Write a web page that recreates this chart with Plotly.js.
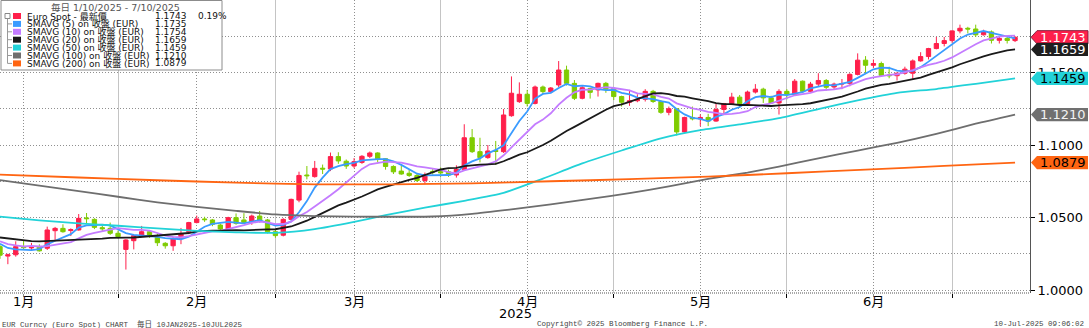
<!DOCTYPE html>
<html><head><meta charset="utf-8">
<script src="https://cdn.plot.ly/plotly-3.0.1.min.js"></script>
<style>html,body{margin:0;padding:0;background:#fff;}#chart{width:1089px;height:328px;}</style>
</head><body><div id="chart"></div>
<script>
// ---------- DATA ----------
// trading days 10 Jan 2025 .. 10 Jul 2025 (FX trades every weekday)
const dates = [];
for (let t = Date.UTC(2025,0,10); t <= Date.UTC(2025,6,10); t += 864e5) {
  const d = new Date(t), w = d.getUTCDay();
  if (w !== 0 && w !== 6) dates.push(d.toISOString().slice(0,10));
}
const openP = [
1.0299,1.0234,1.0243,1.0300,1.0290,1.0298,1.0288,1.0409,1.0425,1.0410,
1.0414,1.0497,1.0487,1.0430,1.0425,1.0391,1.0280,1.0340,1.0379,1.0402,
1.0365,1.0322,1.0305,1.0356,1.0402,1.0465,1.0490,1.0483,1.0448,1.0421,
1.0499,1.0483,1.0471,1.0510,1.0483,1.0402,1.0378,1.0487,1.0620,1.0793,
1.0782,1.0840,1.0835,1.0920,1.0888,1.0855,1.0880,1.0922,1.0945,1.0905,
1.0852,1.0820,1.0805,1.0790,1.0755,1.0818,1.0816,1.0815,1.0793,1.0832,
1.1050,1.0954,1.0913,1.0962,1.0954,1.1202,1.1299,1.1350,1.1287,1.1400,
1.1368,1.1414,1.1517,1.1425,1.1322,1.1390,1.1380,1.1425,1.1390,1.1334,
1.1295,1.1305,1.1315,1.1370,1.1300,1.1225,1.1250,1.1090,1.1190,1.1180,
1.1190,1.1165,1.1245,1.1285,1.1330,1.1285,1.1365,1.1385,1.1325,1.1290,
1.1370,1.1350,1.1440,1.1370,1.1420,1.1445,1.1400,1.1420,1.1425,1.1487,
1.1585,1.1550,1.1562,1.1483,1.1478,1.1495,1.1495,1.1580,1.1610,1.1665,
1.1700,1.1720,1.1787,1.1805,1.1800,1.1760,1.1780,1.1722,1.1735,1.1720];
const highP = [
1.0310,1.0250,1.0336,1.0345,1.0325,1.0315,1.0437,1.0435,1.0453,1.0425,
1.0524,1.0531,1.0495,1.0445,1.0465,1.0410,1.0350,1.0380,1.0442,1.0410,
1.0390,1.0330,1.0365,1.0428,1.0470,1.0513,1.0505,1.0490,1.0458,1.0505,
1.0528,1.0530,1.0520,1.0545,1.0490,1.0420,1.0495,1.0630,1.0816,1.0855,
1.0890,1.0865,1.0948,1.0950,1.0900,1.0910,1.0930,1.0955,1.0950,1.0910,
1.0860,1.0860,1.0830,1.0800,1.0810,1.0835,1.0845,1.0830,1.0860,1.1143,
1.1110,1.1050,1.1000,1.1028,1.1248,1.1473,1.1432,1.1380,1.1410,1.1410,
1.1400,1.1579,1.1547,1.1448,1.1405,1.1395,1.1430,1.1435,1.1400,1.1340,
1.1380,1.1350,1.1385,1.1380,1.1310,1.1265,1.1255,1.1195,1.1265,1.1210,
1.1215,1.1285,1.1290,1.1360,1.1345,1.1375,1.1420,1.1395,1.1340,1.1385,
1.1385,1.1455,1.1445,1.1435,1.1495,1.1455,1.1430,1.1455,1.1495,1.1632,
1.1613,1.1590,1.1575,1.1540,1.1500,1.1540,1.1590,1.1640,1.1670,1.1745,
1.1745,1.1790,1.1830,1.1815,1.1830,1.1795,1.1790,1.1750,1.1745,1.1750];
const lowP = [
1.0215,1.0178,1.0230,1.0276,1.0270,1.0265,1.0276,1.0345,1.0395,1.0372,
1.0410,1.0462,1.0420,1.0400,1.0380,1.0355,1.0141,1.0280,1.0370,1.0360,
1.0303,1.0285,1.0270,1.0316,1.0385,1.0460,1.0470,1.0440,1.0400,1.0415,
1.0450,1.0455,1.0450,1.0465,1.0390,1.0360,1.0370,1.0480,1.0605,1.0763,
1.0775,1.0800,1.0820,1.0870,1.0835,1.0840,1.0870,1.0910,1.0880,1.0830,
1.0800,1.0795,1.0780,1.0745,1.0733,1.0795,1.0780,1.0780,1.0775,1.0830,
1.0945,1.0880,1.0905,1.0862,1.0945,1.1195,1.1290,1.1265,1.1280,1.1350,
1.1360,1.1400,1.1410,1.1310,1.1315,1.1320,1.1334,1.1360,1.1310,1.1265,
1.1270,1.1295,1.1300,1.1290,1.1215,1.1205,1.1065,1.1085,1.1170,1.1130,
1.1130,1.1160,1.1215,1.1275,1.1255,1.1280,1.1355,1.1290,1.1285,1.1210,
1.1315,1.1345,1.1360,1.1365,1.1405,1.1375,1.1385,1.1385,1.1405,1.1480,
1.1489,1.1530,1.1475,1.1460,1.1445,1.1485,1.1452,1.1575,1.1590,1.1660,
1.1680,1.1705,1.1770,1.1770,1.1745,1.1755,1.1700,1.1700,1.1700,1.1710];
const closeP = [
1.0240,1.0243,1.0299,1.0292,1.0300,1.0270,1.0414,1.0425,1.0402,1.0416,
1.0494,1.0492,1.0432,1.0422,1.0391,1.0368,1.0345,1.0375,1.0402,1.0380,
1.0326,1.0305,1.0355,1.0386,1.0465,1.0490,1.0485,1.0453,1.0421,1.0499,
1.0460,1.0465,1.0510,1.0474,1.0402,1.0375,1.0487,1.0625,1.0790,1.0788,
1.0839,1.0834,1.0920,1.0890,1.0855,1.0885,1.0922,1.0945,1.0905,1.0852,
1.0815,1.0800,1.0790,1.0755,1.0795,1.0814,1.0808,1.0793,1.0832,1.1050,
1.0954,1.0913,1.0959,1.0955,1.1207,1.1357,1.1350,1.1287,1.1400,1.1368,
1.1393,1.1517,1.1425,1.1322,1.1395,1.1363,1.1425,1.1385,1.1334,1.1295,
1.1305,1.1315,1.1370,1.1300,1.1225,1.1250,1.1090,1.1190,1.1180,1.1190,
1.1165,1.1245,1.1285,1.1330,1.1285,1.1365,1.1385,1.1325,1.1290,1.1370,
1.1350,1.1440,1.1370,1.1420,1.1445,1.1398,1.1420,1.1424,1.1487,1.1585,
1.1550,1.1562,1.1480,1.1478,1.1495,1.1523,1.1580,1.1610,1.1665,1.1700,
1.1720,1.1787,1.1805,1.1800,1.1760,1.1780,1.1722,1.1735,1.1721,1.1743];

const sma5 = [
1.0319,1.0290,1.0280,1.0275,1.0275,1.0281,1.0315,1.0340,1.0362,1.0385,
1.0430,1.0446,1.0447,1.0451,1.0446,1.0421,1.0392,1.0380,1.0376,1.0374,
1.0366,1.0358,1.0354,1.0350,1.0367,1.0400,1.0436,1.0456,1.0463,1.0470,
1.0464,1.0460,1.0471,1.0482,1.0462,1.0445,1.0450,1.0473,1.0536,1.0613,
1.0706,1.0775,1.0834,1.0854,1.0868,1.0877,1.0894,1.0899,1.0902,1.0902,
1.0888,1.0863,1.0832,1.0802,1.0791,1.0791,1.0792,1.0793,1.0808,1.0859,
1.0887,1.0908,1.0942,1.0966,1.0998,1.1078,1.1166,1.1231,1.1320,1.1352,
1.1360,1.1393,1.1421,1.1405,1.1410,1.1404,1.1386,1.1378,1.1380,1.1360,
1.1349,1.1327,1.1324,1.1317,1.1303,1.1292,1.1247,1.1211,1.1187,1.1180,
1.1163,1.1194,1.1213,1.1243,1.1262,1.1302,1.1330,1.1338,1.1330,1.1347,
1.1344,1.1355,1.1364,1.1390,1.1405,1.1415,1.1411,1.1421,1.1435,1.1463,
1.1493,1.1522,1.1533,1.1531,1.1513,1.1508,1.1511,1.1537,1.1575,1.1616,
1.1655,1.1696,1.1735,1.1762,1.1774,1.1786,1.1773,1.1759,1.1744,1.1735];
const sma10 = [
1.0336,1.0317,1.0307,1.0300,1.0304,1.0300,1.0302,1.0310,1.0319,1.0330,
1.0356,1.0380,1.0394,1.0407,1.0416,1.0426,1.0419,1.0414,1.0414,1.0410,
1.0393,1.0375,1.0367,1.0363,1.0371,1.0383,1.0397,1.0405,1.0407,1.0419,
1.0432,1.0448,1.0463,1.0472,1.0466,1.0454,1.0455,1.0472,1.0509,1.0538,
1.0576,1.0612,1.0653,1.0695,1.0740,1.0791,1.0835,1.0867,1.0878,1.0885,
1.0882,1.0879,1.0866,1.0852,1.0846,1.0839,1.0828,1.0813,1.0805,1.0825,
1.0839,1.0850,1.0867,1.0887,1.0929,1.0983,1.1037,1.1086,1.1143,1.1175,
1.1219,1.1279,1.1326,1.1363,1.1381,1.1382,1.1390,1.1399,1.1393,1.1385,
1.1377,1.1356,1.1351,1.1349,1.1332,1.1320,1.1287,1.1267,1.1252,1.1242,
1.1228,1.1221,1.1212,1.1215,1.1221,1.1233,1.1262,1.1276,1.1287,1.1305,
1.1323,1.1343,1.1351,1.1360,1.1376,1.1379,1.1383,1.1393,1.1412,1.1434,
1.1454,1.1466,1.1477,1.1483,1.1488,1.1500,1.1516,1.1535,1.1553,1.1564,
1.1581,1.1604,1.1636,1.1669,1.1695,1.1721,1.1735,1.1747,1.1753,1.1754];
const sma20 = [
1.0362,1.0355,1.0348,1.0342,1.0337,1.0336,1.0338,1.0341,1.0343,1.0345,
1.0346,1.0349,1.0350,1.0354,1.0360,1.0363,1.0361,1.0362,1.0366,1.0370,
1.0374,1.0378,1.0380,1.0385,1.0393,1.0404,1.0408,1.0409,1.0410,1.0414,
1.0413,1.0411,1.0415,1.0418,1.0418,1.0419,1.0426,1.0438,1.0458,1.0478,
1.0504,1.0530,1.0558,1.0584,1.0603,1.0623,1.0645,1.0669,1.0694,1.0711,
1.0729,1.0746,1.0760,1.0774,1.0793,1.0815,1.0831,1.0840,1.0842,1.0855,
1.0861,1.0865,1.0867,1.0870,1.0888,1.0911,1.0933,1.0950,1.0974,1.1000,
1.1029,1.1065,1.1097,1.1125,1.1155,1.1182,1.1213,1.1243,1.1268,1.1280,
1.1298,1.1318,1.1338,1.1356,1.1357,1.1351,1.1338,1.1333,1.1322,1.1314,
1.1302,1.1289,1.1282,1.1282,1.1276,1.1277,1.1275,1.1272,1.1269,1.1273,
1.1275,1.1282,1.1282,1.1288,1.1299,1.1306,1.1322,1.1334,1.1350,1.1369,
1.1389,1.1404,1.1414,1.1422,1.1432,1.1440,1.1450,1.1464,1.1483,1.1499,
1.1518,1.1535,1.1557,1.1576,1.1592,1.1611,1.1626,1.1641,1.1653,1.1659];
// longer averages, read at sampled trading days (index into dates)
const sma50Day = [0,5,10,15,20,25,30,35,40,45,49,54,59,64,69,74,79,84,89,94,99,104,109,114,119,124,129];
const sma50 = [1.0506,1.0480,1.0460,1.0443,1.0425,1.0408,1.0398,1.0394,1.0420,1.0470,1.0516,1.0568,1.0615,
               1.0670,1.0768,1.0873,1.0962,1.1046,1.1102,1.1142,1.1186,1.1248,1.1308,1.1360,1.1386,1.1422,1.1459];
const sma100Day = [0,5,10,15,20,25,30,35,40,45,50,55,60,65,70,75,80,85,90,95,99,104,109,114,119,124,129];
const sma100 = [1.0758,1.0720,1.0682,1.0643,1.0605,1.0574,1.0546,1.0521,1.0510,1.0506,1.0505,1.0507,1.0525,
                1.0556,1.0590,1.0628,1.0668,1.0715,1.0766,1.0810,1.0851,1.0908,1.0962,1.1015,1.1077,1.1147,1.1210];
const sma200Day = [0,10,20,30,40,50,60,70,80,90,100,110,120,129];
const sma200 = [1.0795,1.0776,1.0757,1.0740,1.0728,1.0729,1.0736,1.0750,1.0764,1.0782,1.0805,1.0830,1.0856,1.0879];

const monthLabelDates = ['2025-01-15','2025-02-14','2025-03-14','2025-04-15','2025-05-15','2025-06-16'];
const monthLabels = ['1月','2月','3月','4月','5月','6月'];
const monthEndDates = ['2025-01-31','2025-02-28','2025-03-31','2025-04-30','2025-05-30','2025-06-30'];

const legendTitle = '毎日 1/10/2025 - 7/10/2025';
const legendNames = ['Euro Spot - 最新價','SMAVG (5) on 收盤 (EUR)','SMAVG (10) on 收盤 (EUR)','SMAVG (20) on 收盤 (EUR)',
                     'SMAVG (50) on 收盤 (EUR)','SMAVG (100) on 收盤 (EUR)','SMAVG (200) on 收盤 (EUR)'];
const legendValues = ['1.1743','1.1735','1.1754','1.1659','1.1459','1.1210','1.0879'];
const lastChange = '0.19%';
const tagValues = [1.1743, 1.1659, 1.1459, 1.1210, 1.0879];

const footerLeft = 'EUR Curncy (Euro Spot) CHART  毎日 10JAN2025-10JUL2025';
const footerMid = 'Copyright© 2025 Bloomberg Finance L.P.';
const footerRight = '10-Jul-2025 09:06:02';
const yearLabel = '2025';

// ---------- STYLE ----------
const UP = '#ff1f4b', DOWN = '#7fcc00';
const lineColors = ['#3a9bff','#c47cff','#1a1a1a','#22d2d8','#6e6e6e','#ff6512'];
const legendColors = [UP].concat(lineColors);
const tagFill = ['#ff1f4b','#1f1f1f','#22d2d8','#707070','#ff6512'];
const tagText = ['#ffffff','#ffffff','#000000','#f2f2f2','#000000'];
const FONT = 'DejaVu Sans, Noto Sans CJK TC, sans-serif';
const MONO = 'Liberation Mono, Noto Sans CJK TC, monospace';

const W = 1089, H = 328, ML = 0, MR = 59, MT = 0, MB = 35;
const PW = W - ML - MR, PH = H - MT - MB;
const Y0 = 0.99793, Y1 = 1.2;
const px = x => x / PW;
const py = y => 1 - y / PH;
const yv = v => (v - Y0) / (Y1 - Y0);
const di = d => dates.indexOf(d);
const idx = dates.map((d, i) => i);

const traces = [{
  type: 'candlestick', x: idx, open: openP, high: highP, low: lowP, close: closeP,
  increasing: {line: {color: UP, width: 1}, fillcolor: UP},
  decreasing: {line: {color: DOWN, width: 1}, fillcolor: DOWN},
  whiskerwidth: 0, hoverinfo: 'skip', showlegend: false
}];
const lineSets = [
  [idx, sma5, 'linear'], [idx, sma10, 'linear'], [idx, sma20, 'linear'],
  [sma50Day, sma50, 'spline'], [sma100Day, sma100, 'spline'], [sma200Day, sma200, 'spline']
];
lineSets.forEach((s, k) => traces.push({
  type: 'scatter', mode: 'lines', x: s[0], y: s[1],
  line: {color: lineColors[k], width: 1.8, shape: s[2], smoothing: 0.6},
  hoverinfo: 'skip', showlegend: false
}));

const shapes = [], annotations = [];
// bottom axis (dotted)
shapes.push({type:'line', xref:'paper', yref:'paper', x0:0, x1:1, y0:0, y1:0, line:{color:'#555', width:1, dash:'1px,1px'}});
// month labels under the axis
monthLabels.forEach((m, k) => annotations.push({xref:'x', yref:'paper', x:di(monthLabelDates[k]), y:py(301),
  text:m, showarrow:false, xanchor:'center', yanchor:'middle', font:{family:FONT, size:13, color:'#000'}}));
annotations.push({xref:'paper', yref:'paper', x:px(515), y:py(313.5), text:yearLabel, showarrow:false,
  xanchor:'center', yanchor:'middle', font:{family:FONT, size:13, color:'#000'}});

// legend box
shapes.push({type:'rect', xref:'paper', yref:'paper', x0:px(1), x1:px(222), y0:py(70), y1:py(0.5),
  fillcolor:'#ffffff', line:{color:'#8c8c8c', width:1}});
annotations.push({xref:'paper', yref:'paper', x:px(115), y:py(7.5), text:legendTitle, showarrow:false,
  xanchor:'center', yanchor:'middle', font:{family:FONT, size:9.5, color:'#555'}});
const rowY = [16, 23.9, 31.8, 39.7, 47.6, 55.5, 63.4];
shapes.push({type:'rect', xref:'paper', yref:'paper', x0:px(5), x1:px(10), y0:py(rowY[0]+2.5), y1:py(rowY[0]-2.5),
  fillcolor:'#ffffff', line:{color:'#888', width:1}});
shapes.push({type:'line', xref:'paper', yref:'paper', x0:px(7.5), x1:px(7.5), y0:py(rowY[0]+2.5), y1:py(rowY[6]),
  line:{color:'#999', width:1}});
legendNames.forEach((n, k) => {
  const y = rowY[k];
  if (k > 0) shapes.push({type:'line', xref:'paper', yref:'paper', x0:px(7.5), x1:px(12), y0:py(y), y1:py(y),
    line:{color:'#999', width:1}});
  shapes.push({type:'rect', xref:'paper', yref:'paper', x0:px(13), x1:px(21), y0:py(y+3), y1:py(y-3),
    fillcolor:legendColors[k], line:{width:0}});
  annotations.push({xref:'paper', yref:'paper', x:px(25), y:py(y), text:n, showarrow:false,
    xanchor:'left', yanchor:'middle', font:{family:FONT, size:9, color:'#111'}});
  annotations.push({xref:'paper', yref:'paper', x:px(188.5), y:py(y), text:legendValues[k], showarrow:false,
    xanchor:'right', yanchor:'middle', font:{family:FONT, size:9, color:'#111'}});
});
annotations.push({xref:'paper', yref:'paper', x:px(196), y:py(rowY[0]), text:lastChange, showarrow:false,
  xanchor:'left', yanchor:'middle', font:{family:FONT, size:9, color:'#111'}});

// value tags at the right axis
tagValues.forEach((v, k) => {
  shapes.push({type:'path', xref:'paper', yref:'paper', xsizemode:'pixel', ysizemode:'pixel',
    xanchor:1, yanchor:yv(v), path:'M1,0 L7,6.6 L58,6.6 L58,-6.6 L7,-6.6 Z',
    fillcolor:tagFill[k], line:{color: k===0 ? '#8a1d3c' : tagFill[k], width: k===0 ? 1 : 0}});
  annotations.push({xref:'paper', yref:'paper', x:px(1063), y:yv(v), text:v.toFixed(4), showarrow:false,
    xanchor:'center', yanchor:'middle', font:{family:FONT, size:13, color:tagText[k]}});
});

// footer
annotations.push({xref:'paper', yref:'paper', x:px(0), y:py(324), text:footerLeft, showarrow:false,
  xanchor:'left', yanchor:'middle', font:{family:MONO, size:7.5, color:'#444'}});
annotations.push({xref:'paper', yref:'paper', x:px(535), y:py(324), text:footerMid, showarrow:false,
  xanchor:'left', yanchor:'middle', font:{family:MONO, size:7.5, color:'#444'}});
annotations.push({xref:'paper', yref:'paper', x:px(1086), y:py(324), text:footerRight, showarrow:false,
  xanchor:'right', yanchor:'middle', font:{family:MONO, size:7.5, color:'#444'}});

const layout = {
  width: W, height: H, margin: {l: ML, r: MR, t: MT, b: MB, pad: 0},
  paper_bgcolor: '#ffffff', plot_bgcolor: '#ffffff', showlegend: false, boxgap: 0.22,
  font: {family: FONT, size: 13, color: '#000'},
  xaxis: {
    type: 'linear', range: [0, 130.9], fixedrange: true, rangeslider: {visible: false},
    tickvals: monthLabelDates.map(di), ticktext: monthLabels, showticklabels: false,
    showgrid: true, gridcolor: '#8f8f8f', griddash: '1px,2px', gridwidth: 1,
    ticks: 'outside', ticklen: 3, tickcolor: '#888', showline: false, zeroline: false,
    minor: {tickvals: monthEndDates.map(di), showgrid: true, gridcolor: '#c4c4c4', griddash: 'solid',
            gridwidth: 1, ticks: 'outside', ticklen: 4, tickcolor: '#000'}
  },
  yaxis: {
    side: 'right', range: [Y0, Y1], fixedrange: true,
    tickvals: [1.0, 1.05, 1.10, 1.15], tickformat: '.4f',
    showgrid: true, gridcolor: '#8f8f8f', griddash: '1px,2px', gridwidth: 1,
    ticks: 'outside', ticklen: 4, tickcolor: '#000', showline: true, linecolor: '#555', linewidth: 1,
    zeroline: false, tickfont: {family: FONT, size: 13, color: '#000'},
    minor: {tickvals: [1.025, 1.075, 1.125, 1.175], showgrid: true, gridcolor: '#8f8f8f', griddash: '1px,2px',
            gridwidth: 1, ticks: ''}
  },
  shapes: shapes, annotations: annotations
};
Plotly.newPlot('chart', traces, layout, {staticPlot: true, displayModeBar: false});
</script></body></html>
